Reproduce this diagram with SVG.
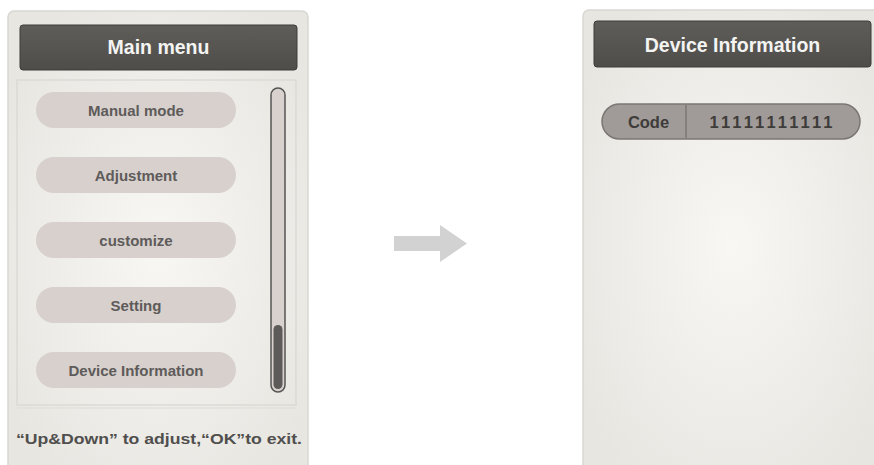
<svg xmlns="http://www.w3.org/2000/svg" width="874" height="465" viewBox="0 0 874 465">
<defs>
<radialGradient id="bg" cx="0.5" cy="0.5" r="0.6">
<stop offset="0" stop-color="#f8f7f3"/>
<stop offset="1" stop-color="#e8e6e1"/>
</radialGradient>
<linearGradient id="hdr" x1="0" y1="0" x2="0" y2="1">
<stop offset="0" stop-color="#5e5d5a"/>
<stop offset="1" stop-color="#4e4d4a"/>
</linearGradient>
</defs>
<style>
.panel{fill:url(#bg);stroke:#d9d7d2;stroke-width:1.5}
.hdr{fill:url(#hdr);stroke:#3e3d3b;stroke-width:1}
.hdrt{font-family:"Liberation Sans",Arial,sans-serif;font-weight:bold;font-size:19.5px;fill:#f4f4f2;text-anchor:middle}
.pill{fill:#d7d0cd}
.pillt{font-family:"Liberation Sans",Arial,sans-serif;font-weight:bold;font-size:15px;fill:#5e5b5a;text-anchor:middle}
.foot{font-family:"Liberation Sans",Arial,sans-serif;font-weight:bold;font-size:15.5px;fill:#504f4e}
.codet{font-family:"Liberation Sans",Arial,sans-serif;font-weight:bold;font-size:16.5px;fill:#3e3c3a;text-anchor:middle}
</style>
<rect width="874" height="465" fill="#ffffff"/>

<g id="main-menu">
<rect class="panel" x="8" y="11" width="300" height="470" rx="6"/>
<rect class="hdr" x="20" y="25" width="277" height="45" rx="3"/>
<text class="hdrt" x="158.5" y="54">Main menu</text>
<rect x="17" y="80" width="279" height="325" fill="none" stroke="#dcdad5" stroke-width="1.5"/>
<line x1="17" y1="408" x2="296" y2="408" stroke="#e2e0db" stroke-width="1.5"/>
<g id="scrollbar">
<rect x="271" y="88" width="14" height="304" rx="7" fill="#d8d1ce" stroke="#555" stroke-width="1.5"/>
<rect x="273.5" y="325" width="9" height="64" rx="4.5" fill="#5d5b59"/>
</g>
<g id="item-manual"><rect class="pill" x="36" y="92" width="200" height="36" rx="18"/><text class="pillt" x="136" y="116">Manual mode</text></g>
<g id="item-adjust"><rect class="pill" x="36" y="157" width="200" height="36" rx="18"/><text class="pillt" x="136" y="181">Adjustment</text></g>
<g id="item-custom"><rect class="pill" x="36" y="222" width="200" height="36" rx="18"/><text class="pillt" x="136" y="246">customize</text></g>
<g id="item-setting"><rect class="pill" x="36" y="287" width="200" height="36" rx="18"/><text class="pillt" x="136" y="311">Setting</text></g>
<g id="item-devinfo"><rect class="pill" x="36" y="352" width="200" height="36" rx="18"/><text class="pillt" x="136" y="376">Device Information</text></g>
<text class="foot" x="16" y="444" textLength="286" lengthAdjust="spacingAndGlyphs">“Up&amp;Down” to adjust,“OK”to exit.</text>
</g>

<g id="connectors">
<polygon points="394,236 440,236 440,225 467,243.5 440,262 440,251 394,251" fill="#d2d2d2"/>
</g>

<g id="device-info">
<rect class="panel" x="583" y="10" width="300" height="470" rx="6"/>
<rect class="hdr" x="594" y="21" width="277" height="46" rx="3"/>
<text class="hdrt" x="732.5" y="52">Device Information</text>
<g id="code-row">
<rect x="602" y="104" width="258" height="35" rx="17.5" fill="#a09b98" stroke="#7b7774" stroke-width="1.5"/>
<line x1="686" y1="105" x2="686" y2="138" stroke="#7b7774" stroke-width="1.5"/>
<text class="codet" x="648.5" y="128">Code</text>
<text class="codet" x="771" y="128" textLength="123" lengthAdjust="spacing">11111111111</text>
</g>
</g>
</svg>
